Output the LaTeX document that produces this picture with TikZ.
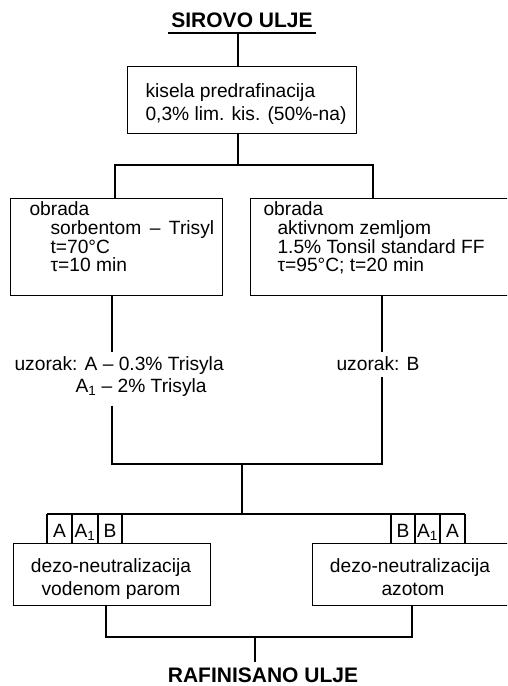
\documentclass[tikz,border=0pt]{standalone}
\usepackage{fontspec}
\setmainfont{Liberation Sans}
\begin{document}
\begin{tikzpicture}[x=1pt,y=-1pt,line width=1.1pt,
  txt/.style={inner sep=0pt,font=\fontsize{19.2}{18}\selectfont,anchor=base west},
  ctxt/.style={inner sep=0pt,font=\fontsize{19.2}{18}\selectfont,anchor=base},
  ttl/.style={inner sep=0pt,font=\fontsize{21}{21}\selectfont\bfseries,anchor=base},
  box/.style={draw,line width=1.1pt,inner sep=0pt,anchor=north west}]
\useasboundingbox (0,0) rectangle (507,686);
\clip (0,0) rectangle (507,686);
% title
\node[ttl] (top) at (242,27) {SIROVO ULJE};
\coordinate (u1) at (168,33);
\coordinate (u2) at (316,33);
\draw (u1) -- (u2);
% box 1
\node[box,minimum width=229pt,minimum height=67pt] (b1) at (127,66) {};
\node[txt] (b1a) at (145,97) {kisela predrafinacija};
\node[txt] (b1b) at (145,120) {0,3\% lim. kis. (50\%-na)};
\draw (b1.north -| 238,0) -- (238,33);
% split
\coordinate (j1) at (238,165);
\coordinate (ja) at (115,165);
\coordinate (jb) at (373,165);
\draw (j1 |- b1.south) -- (j1);
% left and right boxes
\node[box,minimum width=212pt,minimum height=97pt] (lbox) at (10,198) {};
\node[box,minimum width=262pt,minimum height=97pt] (rbox) at (250,198) {};
\draw (ja |- lbox.north) -- (ja) -- (jb) -- (jb |- rbox.north);
\node[txt] (l1) at (29,215) {obrada};
\node[txt] (l2) at (50,234) {sorbentom\, –\, Trisyl};
\node[txt] (l3) at (50,253) {t=70°C};
\node[txt] (l4) at (50,271) {τ=10 min};
\node[txt] (r1) at (263,215) {obrada};
\node[txt] (r2) at (277,234) {aktivnom zemljom};
\node[txt] (r3) at (277,253) {1.5\% Tonsil standard FF};
\node[txt] (r4) at (277,271) {τ=95°C; t=20 min};
% samples
\node[txt] (ua1) at (14,370) {uzorak: A -- 0.3\% Trisyla};
\node[txt] (ua2) at (75,392) {A\textsubscript{1} -- 2\% Trisyla};
\node[ctxt] (ub) at (378,370) {uzorak: B};
\coordinate (ka) at (112,464);
\coordinate (kb) at (382,464);
\coordinate (kc) at (242,464);
\draw (ka |- lbox.south) -- ([yshift=4pt]ka |- ua1.north);
\draw ([yshift=-9pt]ka |- ua2.south) -- (ka) -- (kb) -- ([yshift=-6pt]kb |- ub.south);
\draw ([yshift=4pt]kb |- ub.north) -- (kb |- rbox.south);
% join
\coordinate (ma) at (47,514);
\coordinate (mb) at (465,514);
\draw (kc) -- (kc |- ma);
\draw (ma) -- (mb);
% bottom boxes
\node[box,minimum width=197pt,minimum height=62pt] (lb) at (13,543) {};
\node[box,minimum width=200pt,minimum height=62pt] (rb) at (312,543) {};
% tags
\foreach \x in {47,72,98,122} {\draw (\x,514) -- (\x,543);}
\foreach \x in {391,415,440,465} {\draw (\x,514) -- (\x,543);}
\node[ctxt] (ta1) at (59.5,537) {A};
\node[ctxt] (ta2) at (85,537) {A\textsubscript{1}};
\node[ctxt] (ta3) at (110,537) {B};
\node[ctxt] (tb1) at (403,537) {B};
\node[ctxt] (tb2) at (427.5,537) {A\textsubscript{1}};
\node[ctxt] (tb3) at (452.5,537) {A};
\node[ctxt] (lbt1) at (111,572) {dezo-neutralizacija};
\node[ctxt] (lbt2) at (111,595) {vodenom parom};
\node[ctxt] (rbt1) at (410,572) {dezo-neutralizacija};
\node[ctxt] (rbt2) at (413,595) {azotom};
% final
\coordinate (c1) at (106,637);
\coordinate (c2) at (412,637);
\coordinate (c3) at (255,637);
\draw (c1 |- lb.south) -- (c1) -- (c2) -- (c2 |- rb.south);
\node[ttl] (fin) at (263,682) {RAFINISANO ULJE};
\draw (c3) -- (255,662);
\end{tikzpicture}
\end{document}
